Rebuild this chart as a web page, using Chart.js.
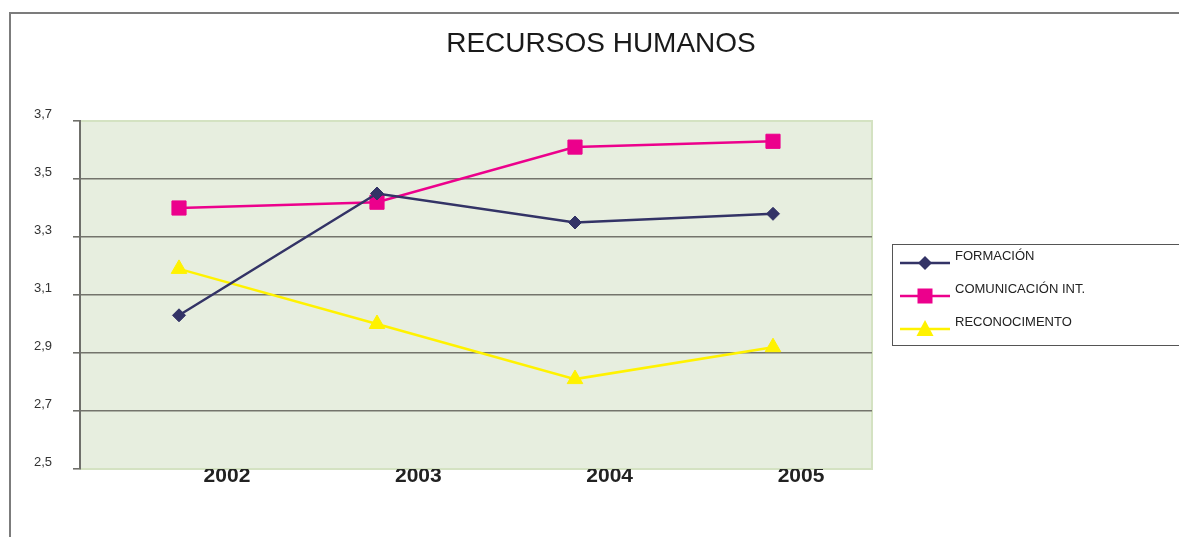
<!DOCTYPE html>
<html>
<head>
<meta charset="utf-8">
<script src="https://cdn.jsdelivr.net/npm/chart.js@4/dist/chart.umd.min.js"></script>
<style>
  html, body { margin: 0; padding: 0; background: #fff; overflow: hidden; }
  body { width: 1179px; height: 537px; position: relative; font-family: "Liberation Sans", Arial, Helvetica, sans-serif; }
  #chartRRHH { position: absolute; left: 0; top: 0; }
  .marco { position: absolute; left: 9px; top: 12px; width: 1300px; height: 600px;
           border-left: 2px solid #7c7c7c; border-top: 2px solid #7c7c7c; pointer-events: none; }
  .titulo { position: absolute; left: 0; top: 29px; width: 1202px; text-align: center;
            font-size: 28px; line-height: 28px; color: #1a1a1a; }
  .leyenda { position: absolute; left: 892px; top: 244px; width: 320px; height: 100px;
             border: 1px solid #555; background: #fff; }
  .fila { position: absolute; left: 0; height: 20px; width: 300px; }
  .fila svg { position: absolute; left: 7px; top: 0; }
  .fila span { position: absolute; left: 62px; top: -4px; font-size: 13px; line-height: 14px; color: #222; white-space: nowrap; }
</style>
</head>
<body>
<canvas id="chartRRHH" width="1179" height="537"></canvas>
<div class="marco"></div>
<div class="titulo">RECURSOS HUMANOS</div>
<div class="leyenda" id="leyenda"></div>

<script>
// datos
const years = ['2002', '2003', '2004', '2005'];
const formacion = [3.03, 3.45, 3.35, 3.38];
const comunicacion = [3.40, 3.42, 3.61, 3.63];
const reconocimiento = [3.19, 3.00, 2.81, 2.92];

const yMin = 2.5;
const yMax = 3.7;
const yStep = 0.2;

const series = [
  { label: 'FORMACIÓN', data: formacion, color: '#333366', shape: 'rectRot', radius: 6.5 },
  { label: 'COMUNICACIÓN INT.', data: comunicacion, color: '#EC008C', shape: 'rect', radius: 10 },
  { label: 'RECONOCIMENTO', data: reconocimiento, color: '#FFF200', shape: 'triangle', radius: 9 }
];

// fondo verde del área de trazado
const fondoPlot = {
  id: 'fondoPlot',
  beforeDraw(chart) {
    const { ctx, chartArea: a } = chart;
    ctx.save();
    ctx.fillStyle = '#E7EEDF';
    ctx.fillRect(a.left, a.top, a.right - a.left, a.bottom - a.top);
    ctx.strokeStyle = '#D4E2C2';
    ctx.lineWidth = 2;
    ctx.strokeRect(a.left, a.top, a.right - a.left, a.bottom - a.top);
    ctx.restore();
  }
};

const ctx = document.getElementById('chartRRHH');
const chart = new Chart(ctx, {
  type: 'line',
  data: {
    labels: years,
    datasets: series.map(s => ({
      label: s.label,
      data: s.data,
      borderColor: s.color,
      backgroundColor: s.color,
      borderWidth: 2.5,
      pointStyle: s.shape,
      pointRadius: s.radius,
      pointBorderWidth: 1,
      pointBorderColor: s.color,
      tension: 0,
      fill: false
    }))
  },
  options: {
    responsive: false,
    animation: false,
    layout: { padding: { left: 0, top: 121, right: 307, bottom: 0 } },
    plugins: {
      legend: { display: false },
      title: { display: false },
      tooltip: { enabled: false }
    },
    scales: {
      x: {
        type: 'category',
        display: false,
        offset: true
      },
      x2: {
        // solo para las etiquetas de los años, desplazadas como en el original
        type: 'linear',
        position: 'bottom',
        min: -0.768,
        max: 3.371,
        grid: { display: false, drawTicks: false },
        border: { display: false },
        afterFit(scale) { scale.height = 68; },
        ticks: {
          stepSize: 1,
          includeBounds: false,
          padding: -3,
          color: '#222',
          font: { family: '"Liberation Sans", Arial, sans-serif', size: 21, weight: 'bold', lineHeight: 1 },
          callback: v => years[v] ?? ''
        }
      },
      y: {
        min: yMin,
        max: yMax,
        afterFit(scale) { scale.width = 80; },
        border: { display: true, color: '#6f6f6a', width: 2 },
        grid: {
          color: c => (c.tick && (Math.abs(c.tick.value - yMin) < 1e-6 || Math.abs(c.tick.value - yMax) < 1e-6)) ? 'rgba(0,0,0,0)' : '#74746c',
          tickColor: '#6f6f6a',
          lineWidth: 1.6,
          tickLength: 7,
          drawTicks: true
        },
        ticks: {
          stepSize: yStep,
          padding: 21,
          labelOffset: -7,
          color: '#333',
          font: { family: '"Liberation Sans", Arial, sans-serif', size: 13 },
          callback: v => v.toFixed(1).replace('.', ',')
        }
      }
    }
  },
  plugins: [fondoPlot]
});

// leyenda en HTML con los mismos marcadores
const leyenda = document.getElementById('leyenda');
const filasY = [8, 41, 74];
function marcador(s) {
  const c = s.color;
  if (s.shape === 'rectRot') return `<polygon points="25,3 32,10 25,17 18,10" fill="${c}"/>`;
  if (s.shape === 'rect') return `<rect x="17.5" y="2.5" width="15" height="15" fill="${c}"/>`;
  return `<polygon points="25,1 33.5,17 16.5,17" fill="${c}"/>`;
}
series.forEach((s, i) => {
  const fila = document.createElement('div');
  fila.className = 'fila';
  fila.style.top = filasY[i] + 'px';
  fila.innerHTML =
    `<svg width="52" height="20"><line x1="0" y1="10" x2="50" y2="10" stroke="${s.color}" stroke-width="2.5"/>${marcador(s)}</svg>` +
    `<span>${s.label}</span>`;
  leyenda.appendChild(fila);
});
</script>
</body>
</html>
